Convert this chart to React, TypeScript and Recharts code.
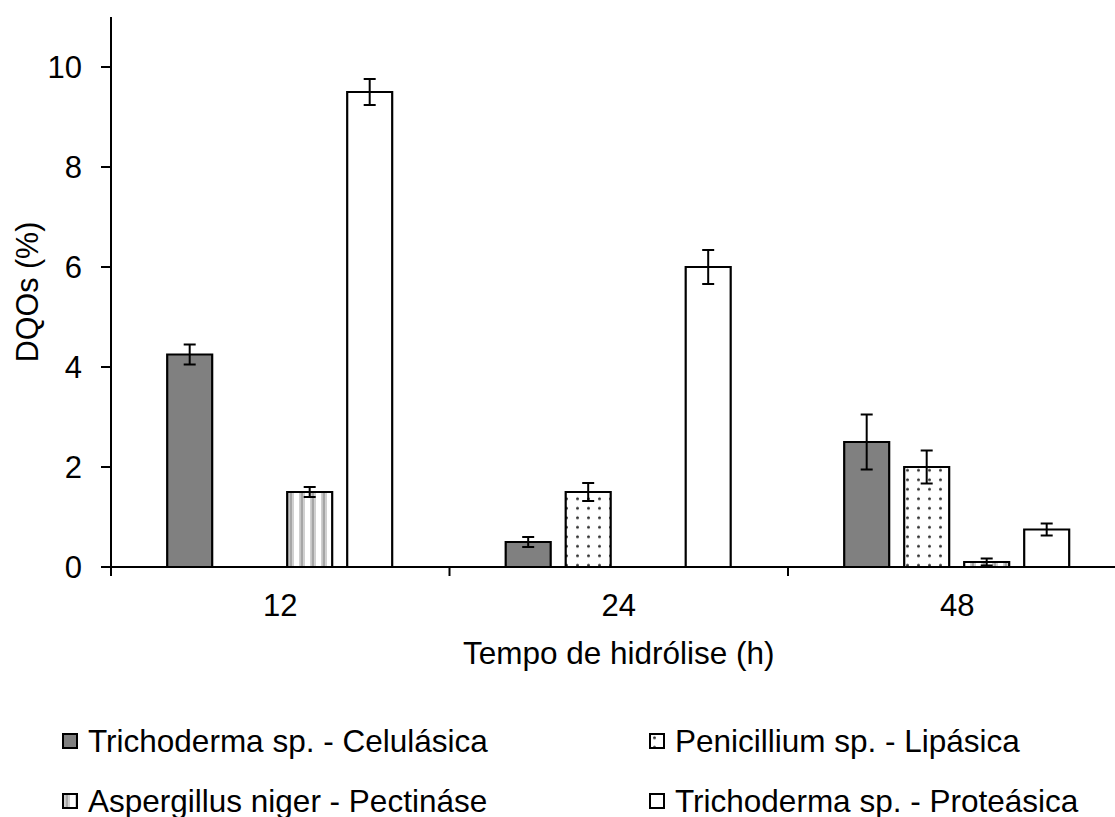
import { BarChart, Bar, XAxis, YAxis, ErrorBar } from 'recharts'

const categories = ['12', '24', '48']

const celulasica = [4.25, 0.5, 2.5]
const celulasicaErr = [0.2, 0.1, 0.55]
const lipasica = [0, 1.5, 2.0]
const lipasicaErr = [null, 0.18, 0.33]
const pectinase = [1.5, 0, 0.1]
const pectinaseErr = [0.1, null, 0.07]
const proteasica = [9.5, 6.0, 0.75]
const proteasicaErr = [0.26, 0.34, 0.12]

const yTicks = [0, 2, 4, 6, 8, 10]

const series = [
  { key: 'cel', name: 'Trichoderma sp. - Celulásica', fill: '#808080' },
  { key: 'lip', name: 'Penicillium sp. - Lipásica', fill: 'url(#dots)' },
  { key: 'pec', name: 'Aspergillus niger - Pectináse', fill: 'url(#stripes)' },
  { key: 'pro', name: 'Trichoderma sp. - Proteásica', fill: '#ffffff' },
]

const data = categories.map((c, i) => ({
  cat: c,
  cel: celulasica[i],
  celErr: celulasicaErr[i],
  lip: lipasica[i],
  lipErr: lipasicaErr[i],
  pec: pectinase[i],
  pecErr: pectinaseErr[i],
  pro: proteasica[i],
  proErr: proteasicaErr[i],
}))

const FONT = '"Liberation Sans", Arial, sans-serif'
const CHART_W = 1140
const MARGIN = { top: 17, right: 13.5, bottom: 153, left: 0 }
const Y_W = 111
const PLOT_W = CHART_W - MARGIN.left - MARGIN.right - Y_W

function XTick(props: any) {
  const { x, y, payload } = props
  const half = PLOT_W / categories.length / 2
  const last = payload.index === categories.length - 1
  return (
    <g>
      <line x1={x - half} y1={y} x2={x - half} y2={y + 9} stroke="#000" strokeWidth={2} />
      {last && <line x1={x + half} y1={y} x2={x + half} y2={y + 9} stroke="#000" strokeWidth={2} />}
      <text x={x} y={y + 49} textAnchor="middle" fontSize={31} fill="#000" fontFamily={FONT}>
        {payload.value}
      </text>
    </g>
  )
}

function LegendIcon({ fill }: { fill: string }) {
  return (
    <svg width={16} height={16} style={{ display: 'block' }}>
      <rect x={1} y={1} width={14} height={14} fill={fill} stroke="#000" strokeWidth={2} />
    </svg>
  )
}

const legendPos = [
  { left: 62, top: 741 },
  { left: 649, top: 741 },
  { left: 62, top: 801 },
  { left: 649, top: 801 },
]
// legend order in the picture: cel, lip / pec, pro
const legendOrder = ['cel', 'lip', 'pec', 'pro']

export default function App() {
  return (
    <div style={{ position: 'relative', width: 1115, height: 817, overflow: 'hidden', background: '#fff', fontFamily: FONT }}>
      <style>{'body{margin:0;overflow:hidden;background:#fff}'}</style>
      <BarChart
        width={CHART_W}
        height={817}
        data={data}
        margin={MARGIN}
        barCategoryGap="16.6%"
        barGap={15}
        style={{ fontFamily: FONT }}
      >
        <defs>
          <pattern id="dots" patternUnits="userSpaceOnUse" width={11} height={9.5}>
            <rect width={11} height={9.5} fill="#fff" />
            <circle cx={5.5} cy={4.75} r={1.5} fill="#333" />
          </pattern>
          <pattern id="stripes" patternUnits="userSpaceOnUse" width={11} height={10}>
            <rect width={11} height={10} fill="#fff" />
            <rect x={2} width={1.5} height={10} fill="#d0d0d0" />
            <rect x={3.5} width={3} height={10} fill="#a6a6a6" />
            <rect x={6.5} width={1.5} height={10} fill="#d0d0d0" />
          </pattern>
        </defs>
        <XAxis
          dataKey="cat"
          height={97}
          axisLine={{ stroke: '#000', strokeWidth: 2 }}
          tickLine={false}
          tickSize={0}
          tickMargin={0}
          tick={<XTick />}
          interval={0}
          label={{
            value: 'Tempo de hidrólise (h)',
            position: 'insideBottom',
            offset: 0,
            fontSize: 31.5,
            fill: '#000',
            fontFamily: FONT,
          }}
        />
        <YAxis
          width={Y_W}
          domain={[0, 11]}
          ticks={yTicks}
          interval={0}
          axisLine={{ stroke: '#000', strokeWidth: 2 }}
          tickLine={{ stroke: '#000', strokeWidth: 2 }}
          tickSize={10}
          tickMargin={19}
          tick={{ fontSize: 31, fill: '#000', fontFamily: FONT }}
          label={{
            value: 'DQOs (%)',
            angle: -90,
            position: 'insideLeft',
            offset: 27,
            fontSize: 30.5,
            fill: '#000',
            fontFamily: FONT,
            style: { textAnchor: 'middle' },
          }}
        />
        {series.map((s) => (
          <Bar
            key={s.key}
            dataKey={s.key}
            name={s.name}
            fill={s.fill}
            stroke="#000"
            strokeWidth={2.2}
            isAnimationActive={false}
          >
            <ErrorBar dataKey={s.key + 'Err'} width={6} stroke="#000" strokeWidth={2} isAnimationActive={false} />
          </Bar>
        ))}
      </BarChart>
      {legendOrder.map((k, i) => {
        const s = series.find((x) => x.key === k)!
        const p = legendPos[i]
        return (
          <div
            key={k}
            style={{
              position: 'absolute',
              left: p.left,
              top: p.top - 20,
              height: 40,
              display: 'flex',
              alignItems: 'center',
              gap: 10,
              fontSize: 31.5,
              color: '#000',
              whiteSpace: 'nowrap',
            }}
          >
            <LegendIcon fill={s.fill} />
            <span>{s.name}</span>
          </div>
        )
      })}
    </div>
  )
}
